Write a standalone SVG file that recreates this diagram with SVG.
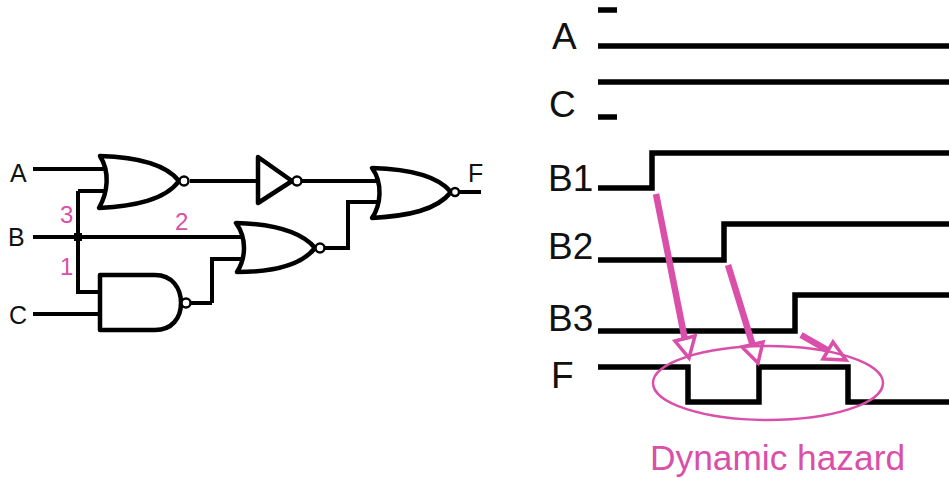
<svg xmlns="http://www.w3.org/2000/svg" width="949" height="478" viewBox="0 0 949 478">
<style>
.w{fill:none;stroke:#000;stroke-width:4;stroke-linejoin:miter}
.g{fill:#fff;stroke:#000;stroke-width:4.5;stroke-linejoin:round;stroke-linecap:round}
.b{fill:#fff;stroke:#000;stroke-width:2.5}
.t{fill:none;stroke:#000;stroke-width:5.5}
.p{fill:none;stroke:#d94fa9;stroke-width:6.5}
.h{fill:none;stroke:#d94fa9;stroke-width:3.5}
text{font-family:"Liberation Sans",Arial,sans-serif;fill:#111}
.l{font-size:25px}
.r{font-size:37px}
.n{font-size:24px;fill:#d94fa9}
</style>
<rect width="949" height="478" fill="#fff"/>
<g id="connectors">
<path class="w" d="M33 169H107M78 191H108M78 191V292H100M33 237H242M33 314H101M190 181H260M212 303H191M212 303V259H241M302 181H377M325 248H348V202H377M460 192H481"/>
<rect x="74" y="233" width="8" height="8" fill="#000"/>
</g>
<g id="gate-or-1">
<path class="g" d="M100 156C135 157 165 163 179 181C165 200 135 206 99 208C108 192 110 172 100 156Z"/>
<circle class="b" cx="184" cy="181" r="4.5"/>
</g>
<g id="gate-nand">
<path class="g" d="M100 275H155C172 275 181 288 181 303C181 318 172 330 155 330H100Z"/>
<circle class="b" cx="186" cy="303" r="4.5"/>
</g>
<g id="gate-not">
<path class="g" d="M258 157L292 181L258 203Z"/>
<circle class="b" cx="297" cy="181" r="4.5"/>
</g>
<g id="gate-or-2">
<path class="g" d="M236 223C270 224 300 230 315 248C300 267 270 272 237 272C246 258 247 238 236 223Z"/>
<circle class="b" cx="320" cy="248" r="4.5"/>
</g>
<g id="gate-or-3">
<path class="g" d="M372 168C408 169 437 175 451 192C437 210 408 216 372 218C381 205 383 183 372 168Z"/>
<circle class="b" cx="455" cy="192" r="4"/>
</g>
<g id="circuit-labels">
<text class="l" x="10" y="182">A</text>
<text class="l" x="8" y="246">B</text>
<text class="l" x="9" y="324">C</text>
<text class="l" x="468" y="182">F</text>
<text class="n" x="60" y="223">3</text>
<text class="n" x="175" y="230">2</text>
<text class="n" x="60" y="275">1</text>
</g>
<g id="waveforms">
<path class="t" d="M598 10H617M598 46H949M598 82H949M598 117H617M598 188H652V153H949M598 260H724V224H949M598 331H795V295H949"/>
<path class="t" d="M598 367H688V402H759V367H848V402H949"/>
</g>
<g id="waveform-labels">
<text class="r" x="552" y="49">A</text>
<text class="r" x="549" y="117">C</text>
<text class="r" x="548" y="191">B1</text>
<text class="r" x="548" y="259">B2</text>
<text class="r" x="548" y="331">B3</text>
<text class="r" x="551" y="388">F</text>
</g>
<g id="hazard">
<ellipse cx="768" cy="383" rx="115" ry="37" fill="none" stroke="#d94fa9" stroke-width="2.5"/>
<path class="p" d="M656 194L685 340M728 265L753 346M801 335L829 351"/>
<path class="h" d="M675 341L695 336L689 358ZM742 347L763 342L758 363ZM823 359L833 342L846 360Z"/>
<text x="650" y="470" font-size="35.3" style="fill:#d94fa9">Dynamic hazard</text>
</g>
</svg>
